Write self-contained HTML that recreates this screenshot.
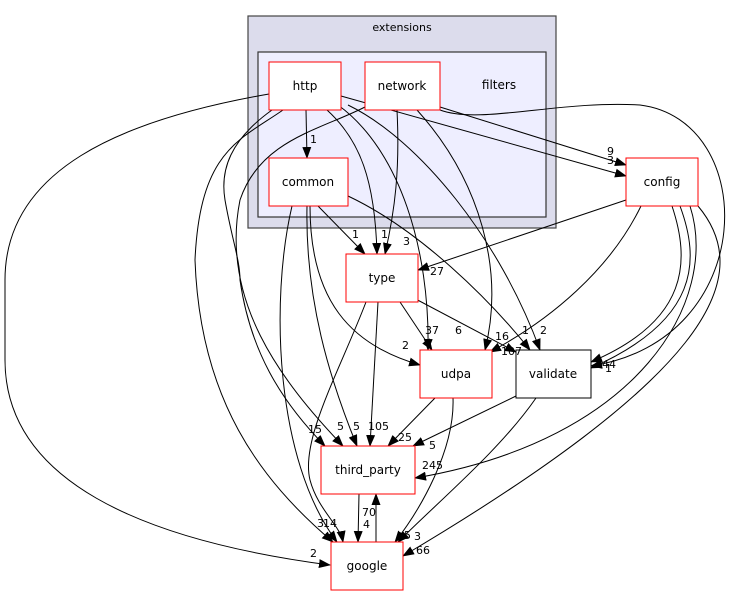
<!DOCTYPE html>
<html><head><meta charset="utf-8"><style>
html,body{margin:0;padding:0;background:#fff;}
svg{display:block;font-family:"DejaVu Sans","Liberation Sans",sans-serif;}
.e{fill:none;stroke:#000;stroke-width:1;}
.l{font-size:11px;fill:#000;}
.n{font-size:12px;fill:#000;text-anchor:middle;}
.r{fill:#fff;stroke:#f00;stroke-width:1;}
</style></head><body>
<svg width="741" height="596" viewBox="0 0 741 596" xmlns="http://www.w3.org/2000/svg">
<defs><marker id="a" markerWidth="12" markerHeight="9" refX="11" refY="4.5" orient="auto" markerUnits="userSpaceOnUse"><path d="M0,0 L12,4.5 L0,9 z" fill="#000"/></marker></defs>
<rect x="248" y="16" width="308" height="212" fill="#dcdcec" stroke="#444" stroke-width="1.2"/>
<text x="402" y="31" class="n" style="font-size:11px">extensions</text>
<rect x="258" y="52" width="288" height="165" fill="#eeeeff" stroke="#333" stroke-width="1.2"/>
<text x="499" y="89" class="n">filters</text>
<g class="e" marker-end="url(#a)">
<path d="M269,94 C120,120 5,170 5,280 L5,360 C5,480 140,540 330,565"/>
<path d="M306,110 L307,158"/>
<path d="M327,110 C360,140 375,180 377,254"/>
<path d="M341,96 L626,176"/>
<path d="M338,105 C400,150 430,250 428,350"/>
<path d="M348,105 C420,140 500,240 540,350"/>
<path d="M272,110 C230,140 220,170 225,200 C232,240 240,260 240,280 C250,350 280,400 325,446"/>
<path d="M283,110 C240,140 200,150 195,260 C200,400 260,480 333,542"/>
<path d="M397,110 C400,170 395,210 385,254"/>
<path d="M440,107 L626,165"/>
<path d="M440,110 C480,125 560,100 640,105 C760,120 760,340 591,366"/>
<path d="M417,110 C480,180 505,270 485,350"/>
<path d="M365,107 C320,130 260,140 240,200 C220,300 280,380 343,446"/>
<path d="M318,206 L365,254"/>
<path d="M348,196 C420,230 490,300 530,350"/>
<path d="M310,206 C310,300 350,345 420,365"/>
<path d="M307,206 C305,300 330,380 357,446"/>
<path d="M292,206 C270,300 275,460 337,542"/>
<path d="M626,200 L418,270"/>
<path d="M641,206 C610,270 550,320 490,352"/>
<path d="M672,206 C690,260 690,320 591,362"/>
<path d="M680,206 C700,260 700,320 591,368"/>
<path d="M690,206 C720,300 640,440 415,478"/>
<path d="M698,206 C760,280 700,380 403,556"/>
<path d="M400,302 L432,350"/>
<path d="M410,296 L516,352"/>
<path d="M378,302 L370,446"/>
<path d="M366,302 C340,370 300,440 310,480 C318,510 340,525 343,542"/>
<path d="M435,398 L388,446"/>
<path d="M453,398 C455,450 420,510 395,542"/>
<path d="M516,396 L413,446"/>
<path d="M536,398 C500,450 440,500 398,542"/>
<path d="M359,494 L358,542"/>
<path d="M376,542 L376,494"/>
</g>
<rect class="r" x="269" y="62" width="72" height="48"/><text class="n" x="305" y="90">http</text>
<rect class="r" x="365" y="62" width="75" height="48"/><text class="n" x="402" y="90">network</text>
<rect class="r" x="269" y="158" width="79" height="48"/><text class="n" x="308" y="186">common</text>
<rect class="r" x="626" y="158" width="72" height="48"/><text class="n" x="662" y="186">config</text>
<rect class="r" x="346" y="254" width="72" height="48"/><text class="n" x="382" y="282">type</text>
<rect class="r" x="420" y="350" width="72" height="48"/><text class="n" x="456" y="378">udpa</text>
<rect x="516" y="350" width="75" height="48" fill="#fff" stroke="#000"/><text class="n" x="553" y="378">validate</text>
<rect class="r" x="321" y="446" width="94" height="48"/><text class="n" x="368" y="474">third_party</text>
<rect class="r" x="331" y="542" width="72" height="48"/><text class="n" x="367" y="570">google</text>
<g class="l">
<text x="310" y="143">1</text>
<text x="352" y="238">1</text><text x="381" y="238">1</text><text x="403" y="245">3</text>
<text x="607" y="155">9</text><text x="607" y="164">3</text>
<text x="430" y="275">27</text>
<text x="425" y="334">37</text><text x="455" y="334">6</text>
<text x="402" y="349">2</text>
<text x="495" y="340">16</text><text x="501" y="355">107</text>
<text x="522" y="334">1</text><text x="540" y="334">2</text>
<text x="602" y="368">44</text><text x="605" y="372">1</text>
<text x="308" y="433">15</text><text x="337" y="430">5</text><text x="353" y="430">5</text><text x="368" y="430">105</text>
<text x="398" y="441">25</text><text x="429" y="449">5</text>
<text x="422" y="469">245</text>
<text x="362" y="516">70</text><text x="363" y="528">4</text>
<text x="317" y="527">3</text><text x="323" y="527">14</text>
<text x="404" y="539">5</text><text x="414" y="540">3</text>
<text x="416" y="554">66</text>
<text x="310" y="557">2</text>
</g>
</svg>
</body></html>
